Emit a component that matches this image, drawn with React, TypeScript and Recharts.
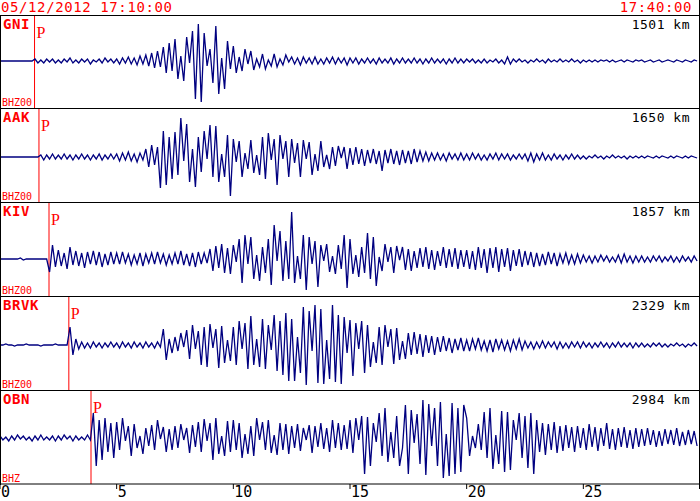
import React from "react";
import { LineChart, Line, XAxis, YAxis, ReferenceLine } from "recharts";

// sampling interval of the traces, in minutes after 17:10:00
const STEP_MIN = 0.125;
const X_TICKS = [0, 5, 10, 15, 20, 25];
const START_LABEL = "05/12/2012 17:10:00";
const END_LABEL = "17:40:00";
const STATIONS = ["GNI", "AAK", "KIV", "BRVK", "OBN"];
const DISTANCES = ["1501 km", "1650 km", "1857 km", "2329 km", "2984 km"];
const CHANNELS = ["BHZ00", "BHZ00", "BHZ00", "BHZ00", "BHZ"];
const P_ARRIVALS = [1.48, 1.67, 2.1, 2.95, 3.9];

const GNI = [
  0, 0, 0, 0, 0, 0, 0, 0, 0, 0, 0, 0, 2, -2, 1, -2, 2, -1, 2, -2,
  1, -2, 2, -1, 3, -2, 1, -2, 2, -1, 2, -3, 1, -1, 2, -2, 3, -1, 2, -2,
  2, -3, 3, -2, 4, -3, 3, -4, 5, -3, 6, -5, 8, -7, 10, -6, 14, -12, 18, -10,
  22, -18, 5, -20, 24, -2, 30, -38, 37, -41, 28, -5, 12, -22, 35, -33, 3, -28, 20, -8,
  15, -12, 4, -10, 12, -3, 10, -9, 2, -6, 7, -8, 1, -5, 7, -6, 2, -4, 6, -1,
  4, -3, 3, -4, 4, -2, 3, -3, 4, -3, 2, -3, 3, -2, 4, -3, 3, -2, 3, -4,
  3, -2, 3, -3, 2, -2, 3, -2, 2, -3, 3, -2, 2, -2, 3, -3, 2, -2, 3, -2,
  2, -2, 3, -2, 2, -3, 2, -2, 3, -2, 2, -2, 2, -3, 2, -2, 3, -2, 2, -2,
  2, -1, 2, -2, 1, -2, 2, -2, 1, -1, 2, -2, 1, -3, 4, -3, 2, -1, 2, -1,
  1, -2, 1, -1, 2, -1, 1, -2, 2, -1, 1, -1, 2, -1, 1, -1, 2, -1, 1, -2,
  1, -1, 1, -1, 1, -1, 1, 0, 1, -1, 1, -1, 0, 1, -1, 1, 0, -1, 1, 0,
  1, -1, 0, 1, -1, 0, 1, -1, 0, 1, 0, -1, 1, 0, -1, 1, 0, -1, 1, 0,
];

const AAK = [
  0, 0, 0, 0, 0, 0, 0, 0, 0, 0, 0, 0, 0, 0, 2, -3, 2, -2, 3, -2,
  2, -2, 3, -2, 2, -3, 2, -2, 3, -2, 2, -3, 2, -2, 3, -3, 2, -2, 3, -2,
  3, -4, 4, -3, 5, -4, 3, -5, 4, -3, 8, -10, 12, -8, 10, -31, 26, -28, 20, -22,
  25, -18, 39, -4, 33, -25, 8, -30, 20, -15, 26, -2, 32, -20, 31, -25, 3, -20, 22, -39,
  18, -5, 16, -20, 4, -12, 17, -16, 2, -18, 20, -22, 24, -3, 18, -28, 22, -2, 16, -20,
  18, -6, 14, -20, 17, -2, 15, -18, 3, -14, 16, -10, 2, -12, 10, -9, 11, -1, 10, -12,
  9, -8, 10, -7, 8, -9, 7, -6, 8, -7, 6, -14, 7, -6, 8, -7, 6, -8, 7, -6,
  6, -7, 8, -5, 6, -4, 5, -4, 4, -3, 4, -3, 3, -4, 4, -2, 3, -3, 4, -3,
  3, -3, 4, -2, 3, -3, 2, -3, 3, -2, 4, -3, 3, -2, 3, -3, 2, -2, 3, -2,
  3, -4, 4, -5, 3, -3, 4, -3, 2, -3, 3, -2, 2, -3, 2, -2, 3, -2, 2, -2,
  1, -2, 1, -1, 2, -1, 1, -2, 1, -1, 2, -1, 1, -1, 1, -2, 1, -1, 1, -1,
  1, -1, 1, 0, -1, 1, -1, 1, 0, -1, 1, -1, 1, 0, -1, 1, -1, 1, 0, -1,
];

const KIV = [
  0, 0, 0, 0, 0, 0, 0, 1, -1, 0, 0, 0, 0, 0, 0, 0, 0, -13, 14, -8,
  9, -7, 6, -10, 12, -6, 8, -7, 6, -9, 7, -5, 8, -6, 7, -8, 5, -6, 7, -5,
  6, -5, 7, -4, 5, -6, 4, -5, 6, -7, 5, -4, 6, -5, 7, -4, 5, -6, 4, -5,
  6, -5, 8, -6, 5, -7, 6, -8, 7, -5, 6, -4, 10, -12, 13, -9, 15, -14, 11, -15,
  14, -3, 20, -24, 24, -5, 22, -20, 4, -22, 12, -14, 20, -26, 34, -2, 28, -22, 18, -20,
  47, -24, 3, -20, 24, -31, 22, -5, 18, -28, 14, -2, 15, -13, 3, -15, 14, -10, 24, -29,
  20, -15, 4, -18, 12, -14, 26, -20, 22, -27, 2, -12, 15, -3, 12, -14, 13, -1, 12, -11,
  10, -12, 8, -9, 11, -8, 12, -10, 9, -11, 8, -7, 12, -9, 10, -8, 11, -10, 9, -8,
  9, -10, 8, -11, 12, -9, 10, -14, 11, -9, 12, -13, 10, -8, 11, -12, 9, -7, 10, -8,
  8, -6, 7, -8, 6, -7, 5, -6, 7, -5, 6, -7, 5, -4, 6, -5, 4, -5, 5, -4,
  4, -3, 3, -4, 3, -3, 4, -2, 3, -3, 2, -3, 4, -4, 5, -3, 3, -4, 3, -3,
  3, -3, 2, -3, 3, -2, 3, -3, 2, -2, 3, -3, 2, -3, 3, -2, 2, -3, 3, -2,
];

const BRVK = [
  0, 0, 1, 0, 0, -1, 0, 0, 0, 1, 0, 0, 0, 0, -1, 0, 0, 0, 0, 1,
  0, 0, 0, 0, 18, -10, 6, -4, 3, -3, 2, -3, 3, -2, 2, -3, 2, -2, 3, -2,
  2, -3, 3, -2, 2, -3, 3, -2, 2, -3, 3, -2, 2, -3, 3, -2, 16, -15, 6, -8,
  8, -6, 12, -2, 15, -14, 20, -4, 14, -20, 18, -22, 21, -3, 16, -23, 19, -18, 5, -16,
  18, -20, 24, -4, 22, -24, 29, -20, 6, -22, 26, -24, 20, -5, 30, -26, 24, -30, 32, -36,
  26, -36, 8, -28, 38, -40, 34, -6, 40, -38, 36, -39, 5, -34, 40, -37, 30, -39, 28, -8,
  25, -31, 22, -4, 24, -28, 20, -22, 3, -18, 18, -20, 20, -2, 16, -19, 17, -15, 4, -14,
  12, -10, 13, -9, 11, -12, 10, -8, 9, -10, 8, -7, 9, -6, 7, -8, 6, -5, 7, -6,
  5, -6, 6, -4, 7, -5, 4, -6, 5, -7, 6, -4, 5, -5, 4, -6, 5, -4, 6, -5,
  4, -3, 3, -4, 3, -3, 4, -3, 3, -2, 3, -4, 3, -3, 2, -3, 3, -2, 3, -3,
  3, -2, 2, -3, 2, -2, 3, -2, 2, -3, 2, -2, 3, -2, 2, -2, 2, -3, 2, -2,
  2, -2, 1, -2, 2, -1, 2, -2, 1, -2, 1, -1, 2, -1, 1, -2, 1, -1, 2, -1,
];

const OBN = [
  2, -2, 1, -3, 2, -2, 3, -1, 2, -2, 1, -3, 2, -2, 3, -2, 1, -2, 2, -3,
  2, -2, 3, -1, 2, -3, 2, -2, 1, -2, 3, -2, 25, -28, 18, -22, 20, -14, 15, -20,
  16, -12, 20, -3, 12, -18, 14, -10, 2, -16, 10, -8, 13, -12, 18, -1, 11, -14, 9, -12,
  12, -10, 14, -2, 10, -15, 13, -9, 16, -14, 19, -3, 15, -22, 20, -16, 2, -18, 17, -14,
  18, -12, 15, -20, 4, -16, 12, -18, 20, -2, 16, -12, 18, -15, 3, -17, 15, -12, 14, -16,
  12, -10, 14, -13, 10, -2, 13, -15, 12, -9, 15, -11, 10, -14, 18, -10, 15, -12, 13, -11,
  18, -15, 20, -2, 22, -36, 21, -28, 15, -4, 25, -18, 30, -24, 6, -20, 22, -28, -10, 33,
  -36, 28, -5, 24, -26, 38, -37, 34, -8, 30, -28, 36, -40, 4, -38, 35, -36, 30, -34, 33,
  20, -18, 2, -10, 14, -12, 26, -20, 30, -31, 3, -26, 27, -34, 26, -32, 18, -2, 25, -20,
  22, -30, 25, -36, 18, -14, 15, -17, 14, -12, 16, -15, 12, -13, 13, -10, 11, -14, 12, -10,
  10, -12, 14, -9, 11, -13, 10, -8, 15, -11, 9, -12, 10, -9, 11, -10, 8, -11, 10, -9,
  9, -8, 10, -7, 8, -9, 7, -8, 9, -6, 8, -7, 10, -8, 6, -7, 8, -6, 7, -8,
];

const TRACES = [GNI, AAK, KIV, BRVK, OBN];

// layout (pixels)
const WIDTH = 700;
const SEPARATORS = [15, 108, 202, 296, 390, 484];
const Y_DOMAINS: [number, number][] = [
  [-47, 45],
  [-45, 48],
  [-37, 56],
  [-45, 48],
  [-46, 47],
];
const AXIS_H = 17;
const MONO = "'DejaVu Sans Mono', 'Liberation Mono', monospace";
const RED = "#ff0000";
const NAVY = "#000080";

function PLabel(props: any) {
  const vb = props.viewBox || {};
  return (
    <text
      x={(vb.x ?? 0) + 2}
      y={(vb.y ?? 0) + 22}
      fill={RED}
      fontFamily="'Liberation Serif', 'DejaVu Serif', serif"
      fontSize={16}
    >
      P
    </text>
  );
}

function AxisTick(props: any) {
  const { x, y, payload } = props;
  return (
    <text x={x + 1} y={y + 6} fill="#000" fontFamily={MONO} fontSize={15} textAnchor="start">
      {payload.value}
    </text>
  );
}

function Panel({ idx }: { idx: number }) {
  const top = SEPARATORS[idx] + 1;
  const height = SEPARATORS[idx + 1] - top;
  const withAxis = idx === TRACES.length - 1;
  const data = TRACES[idx].map((v, i) => ({ t: i * STEP_MIN, v }));
  return (
    <div style={{ position: "absolute", left: 0, top }}>
      <LineChart
        width={WIDTH}
        height={height + (withAxis ? AXIS_H : 0)}
        data={data}
        margin={{ top: 0, right: 0, bottom: 0, left: 0 }}
      >
        <XAxis
          type="number"
          dataKey="t"
          domain={[0, 30]}
          allowDataOverflow
          hide={!withAxis}
          ticks={X_TICKS}
          interval={0}
          height={AXIS_H}
          tickSize={5}
          tickMargin={2}
          axisLine={{ stroke: "#000", strokeWidth: 1 }}
          tickLine={{ stroke: "#000", strokeWidth: 1 }}
          tick={<AxisTick />}
        />
        <YAxis type="number" domain={Y_DOMAINS[idx]} allowDataOverflow hide />
        <ReferenceLine x={P_ARRIVALS[idx]} stroke={RED} strokeWidth={1} label={<PLabel />} />
        <Line
          type="linear"
          dataKey="v"
          stroke={NAVY}
          strokeWidth={1.3}
          dot={false}
          isAnimationActive={false}
        />
      </LineChart>
    </div>
  );
}

export default function App() {
  return (
    <div
      style={{
        position: "absolute",
        left: 0,
        top: 0,
        width: 700,
        height: 501,
        background: "#fff",
        overflow: "hidden",
      }}
    >
      {TRACES.map((_, i) => (
        <Panel key={i} idx={i} />
      ))}
      <svg
        width={700}
        height={501}
        style={{ position: "absolute", left: 0, top: 0, pointerEvents: "none" }}
      >
        <text x={1} y={12} fill={RED} fontFamily={MONO} fontSize={14} letterSpacing={0.6}>
          {START_LABEL}
        </text>
        <text x={692} y={12} fill={RED} fontFamily={MONO} fontSize={14} letterSpacing={0.6} textAnchor="end">
          {END_LABEL}
        </text>
        {SEPARATORS.slice(0, 5).map((s) => (
          <line key={s} x1={0} x2={700} y1={s + 0.5} y2={s + 0.5} stroke="#000" strokeWidth={1} />
        ))}
        <line x1={0.5} x2={0.5} y1={15} y2={485} stroke="#000" strokeWidth={1} />
        <line x1={699.5} x2={699.5} y1={0} y2={489} stroke="#000" strokeWidth={1} />
        {STATIONS.map((s, i) => (
          <g key={s}>
            <text x={3} y={SEPARATORS[i] + 14} fill={RED} fontFamily={MONO} fontSize={14} letterSpacing={0.6} fontWeight="bold">
              {s}
            </text>
            <text x={690} y={SEPARATORS[i] + 14} fill="#000" fontFamily={MONO} fontSize={13} letterSpacing={0.5} textAnchor="end">
              {DISTANCES[i]}
            </text>
            <text x={2} y={SEPARATORS[i + 1] - 2} fill={RED} fontFamily={MONO} fontSize={10}>
              {CHANNELS[i]}
            </text>
          </g>
        ))}
      </svg>
    </div>
  );
}
